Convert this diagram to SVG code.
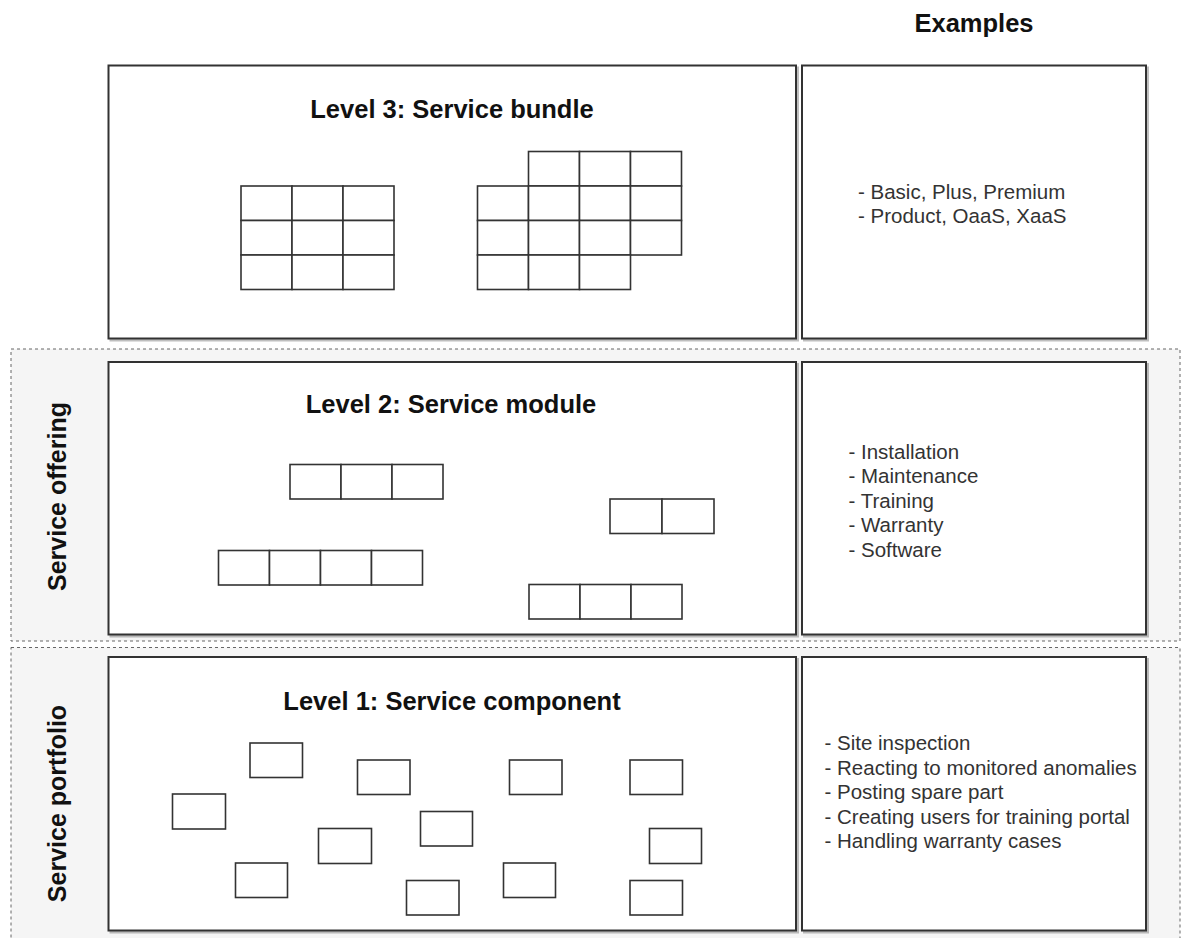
<svg xmlns="http://www.w3.org/2000/svg" width="1181" height="938" viewBox="0 0 1181 938">
<defs>
<filter id="sh" x="-5%" y="-5%" width="110%" height="110%">
<feDropShadow dx="2" dy="2" stdDeviation="0.7" flood-color="#000" flood-opacity="0.25"/>
</filter>
</defs>
<style>
.band{fill:#f5f5f5;stroke:#666;stroke-width:1;stroke-dasharray:3 3}
.box{fill:#fff;stroke:#333;stroke-width:2;filter:url(#sh)}
.cell{fill:#fff;stroke:#333;stroke-width:1.6}
.title{font-family:"Liberation Sans",Arial,sans-serif;font-weight:bold;font-size:25.5px;fill:#111;text-anchor:middle}
.side{font-family:"Liberation Sans",Arial,sans-serif;font-weight:bold;font-size:25px;fill:#111;text-anchor:middle}
.ex{font-family:"Liberation Sans",Arial,sans-serif;font-size:20.5px;fill:#333}
</style>
<rect width="1181" height="938" fill="#fff"/>

<g id="band-offering">
<rect class="band" x="11" y="349" width="1169" height="292"/>
<text class="side" transform="translate(66,496.5) rotate(-90)">Service offering</text>
</g>
<g id="band-portfolio">
<rect class="band" x="11" y="647.5" width="1169" height="320"/>
<text class="side" transform="translate(66,803.5) rotate(-90)">Service portfolio</text>
</g>

<text id="examples-header" class="title" x="974" y="32">Examples</text>

<g id="level3">
<rect class="box" x="108.5" y="65.5" width="687.5" height="273"/>
<text class="title" x="452" y="118">Level 3: Service bundle</text>
<g id="bundle-a">
<rect class="cell" x="241" y="186" width="51" height="34.5"/>
<rect class="cell" x="292" y="186" width="51" height="34.5"/>
<rect class="cell" x="343" y="186" width="51" height="34.5"/>
<rect class="cell" x="241" y="220.5" width="51" height="34.5"/>
<rect class="cell" x="292" y="220.5" width="51" height="34.5"/>
<rect class="cell" x="343" y="220.5" width="51" height="34.5"/>
<rect class="cell" x="241" y="255" width="51" height="34.5"/>
<rect class="cell" x="292" y="255" width="51" height="34.5"/>
<rect class="cell" x="343" y="255" width="51" height="34.5"/>
</g>
<g id="bundle-b">
<rect class="cell" x="528.5" y="151.5" width="51" height="34.5"/>
<rect class="cell" x="579.5" y="151.5" width="51" height="34.5"/>
<rect class="cell" x="630.5" y="151.5" width="51" height="34.5"/>
<rect class="cell" x="477.5" y="186" width="51" height="34.5"/>
<rect class="cell" x="528.5" y="186" width="51" height="34.5"/>
<rect class="cell" x="579.5" y="186" width="51" height="34.5"/>
<rect class="cell" x="630.5" y="186" width="51" height="34.5"/>
<rect class="cell" x="477.5" y="220.5" width="51" height="34.5"/>
<rect class="cell" x="528.5" y="220.5" width="51" height="34.5"/>
<rect class="cell" x="579.5" y="220.5" width="51" height="34.5"/>
<rect class="cell" x="630.5" y="220.5" width="51" height="34.5"/>
<rect class="cell" x="477.5" y="255" width="51" height="34.5"/>
<rect class="cell" x="528.5" y="255" width="51" height="34.5"/>
<rect class="cell" x="579.5" y="255" width="51" height="34.5"/>
</g>
</g>

<g id="examples3">
<rect class="box" x="802" y="65.5" width="344" height="273"/>
<text class="ex" x="858" y="199">- Basic, Plus, Premium</text>
<text class="ex" x="858" y="222.5">- Product, OaaS, XaaS</text>
</g>

<g id="level2">
<rect class="box" x="108.5" y="362" width="687.5" height="272.5"/>
<text class="title" x="451" y="413">Level 2: Service module</text>
<g id="module-a">
<rect class="cell" x="290" y="464.5" width="51" height="34.5"/>
<rect class="cell" x="341" y="464.5" width="51" height="34.5"/>
<rect class="cell" x="392" y="464.5" width="51" height="34.5"/>
</g>
<g id="module-b">
<rect class="cell" x="610" y="499" width="52" height="34.5"/>
<rect class="cell" x="662" y="499" width="52" height="34.5"/>
</g>
<g id="module-c">
<rect class="cell" x="218.5" y="550.5" width="51" height="34.5"/>
<rect class="cell" x="269.5" y="550.5" width="51" height="34.5"/>
<rect class="cell" x="320.5" y="550.5" width="51" height="34.5"/>
<rect class="cell" x="371.5" y="550.5" width="51" height="34.5"/>
</g>
<g id="module-d">
<rect class="cell" x="529" y="584.5" width="51" height="34.5"/>
<rect class="cell" x="580" y="584.5" width="51" height="34.5"/>
<rect class="cell" x="631" y="584.5" width="51" height="34.5"/>
</g>
</g>

<g id="examples2">
<rect class="box" x="802" y="362" width="344" height="272.5"/>
<text class="ex" x="848.5" y="458.5">- Installation</text>
<text class="ex" x="848.5" y="483">- Maintenance</text>
<text class="ex" x="848.5" y="507.5">- Training</text>
<text class="ex" x="848.5" y="532">- Warranty</text>
<text class="ex" x="848.5" y="557">- Software</text>
</g>

<g id="level1">
<rect class="box" x="108.5" y="657" width="687.5" height="273.5"/>
<text class="title" x="452" y="709.5">Level 1: Service component</text>
<g id="components">
<rect class="cell" x="250" y="743" width="52.5" height="34.5"/>
<rect class="cell" x="357.5" y="760" width="52.5" height="34.5"/>
<rect class="cell" x="509.5" y="760" width="52.5" height="34.5"/>
<rect class="cell" x="630" y="760" width="52.5" height="34.5"/>
<rect class="cell" x="172.5" y="794" width="53" height="35"/>
<rect class="cell" x="420.5" y="811.5" width="52" height="34.5"/>
<rect class="cell" x="318.5" y="828.5" width="53" height="35"/>
<rect class="cell" x="649.5" y="828.5" width="52" height="35"/>
<rect class="cell" x="235.5" y="863" width="52" height="34.5"/>
<rect class="cell" x="503.5" y="863" width="52" height="34.5"/>
<rect class="cell" x="406.5" y="880.5" width="52.5" height="34.5"/>
<rect class="cell" x="630" y="880.5" width="52.5" height="34.5"/>
</g>
</g>

<g id="examples1">
<rect class="box" x="802" y="657" width="344" height="273.5"/>
<text class="ex" x="824.5" y="750">- Site inspection</text>
<text class="ex" x="824.5" y="774.5">- Reacting to monitored anomalies</text>
<text class="ex" x="824.5" y="799">- Posting spare part</text>
<text class="ex" x="824.5" y="823.5">- Creating users for training portal</text>
<text class="ex" x="824.5" y="848">- Handling warranty cases</text>
</g>

<g id="connectors"></g>
</svg>
